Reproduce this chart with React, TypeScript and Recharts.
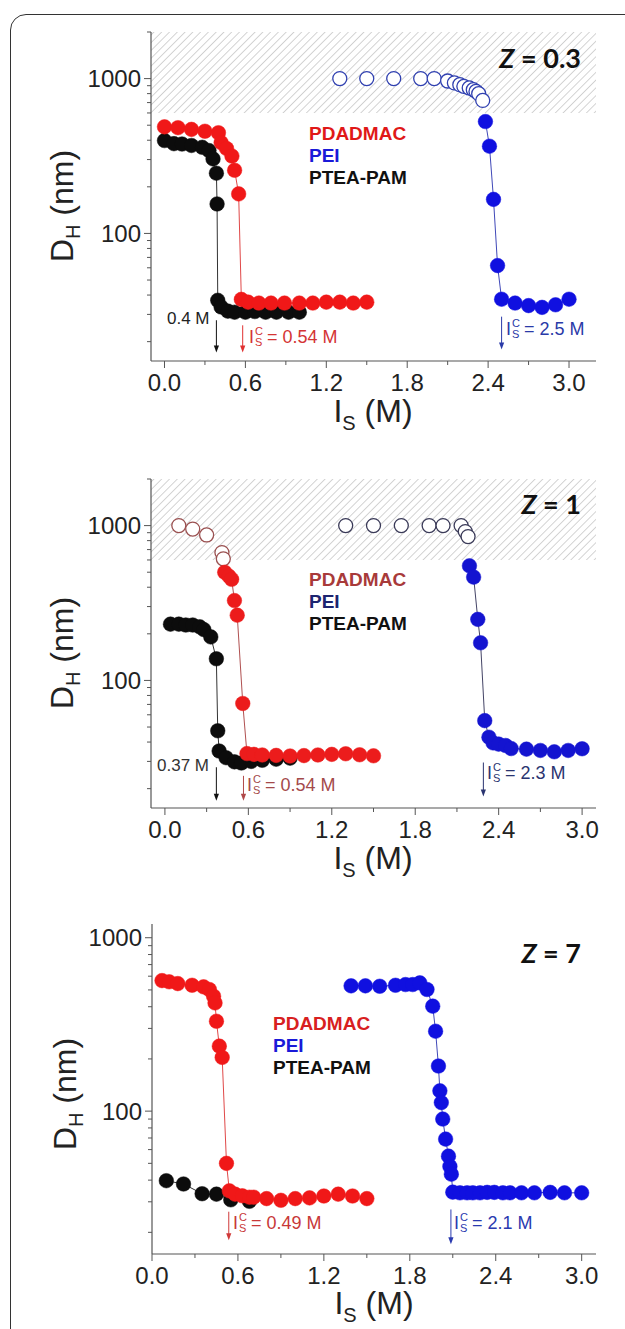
import React from 'react'
import { ScatterChart, Scatter, XAxis, YAxis, ReferenceArea, ReferenceLine } from 'recharts'

// ---- Z = 0.3 ----
const z03BlackX = [0, 0.07, 0.13, 0.2, 0.28, 0.33, 0.36, 0.385, 0.39, 0.395, 0.42, 0.47, 0.52, 0.6, 0.67, 0.75, 0.83, 0.92, 1.0]
const z03BlackY = [398, 380, 378, 370, 360, 343, 303, 245, 155, 37, 33.5, 31.5, 31, 31, 31.3, 31, 31, 31, 31]
const z03RedX = [0, 0.1, 0.2, 0.3, 0.4, 0.42, 0.46, 0.5, 0.52, 0.55, 0.57, 0.62, 0.7, 0.79, 0.89, 1.0, 1.1, 1.2, 1.3, 1.4, 1.5]
const z03RedY = [488, 482, 470, 457, 447, 386, 354, 316, 256, 180, 37.5, 36, 35.5, 35.5, 35.5, 35.5, 35.5, 36, 36, 35.5, 36]
const z03PeiOpenX = [1.3, 1.5, 1.7, 1.9, 2.0, 2.1, 2.15, 2.19, 2.22, 2.26, 2.29, 2.31, 2.33, 2.36]
const z03PeiOpenY = [1000, 1000, 1000, 1000, 1000, 965, 938, 914, 891, 870, 848, 827, 799, 723]
const z03PeiX = [2.38, 2.41, 2.44, 2.47, 2.5, 2.6, 2.7, 2.8, 2.9, 3.0]
const z03PeiY = [528, 366, 166, 62, 37.6, 35.5, 34.2, 33.3, 34.6, 37.6]

// ---- Z = 1 ----
const z1BlackX = [0.04, 0.1, 0.15, 0.2, 0.25, 0.28, 0.33, 0.37, 0.38, 0.39, 0.44, 0.5, 0.55, 0.62, 0.7, 0.8, 0.9]
const z1BlackY = [231, 231, 228, 228, 222, 213, 191, 138, 47.3, 35, 31.7, 29.8, 29.3, 30, 30.5, 31, 31.5]
const z1RedOpenX = [0.1, 0.2, 0.3, 0.41, 0.42]
const z1RedOpenY = [1000, 950, 870, 670, 610]
const z1RedX = [0.43, 0.46, 0.48, 0.5, 0.52, 0.56, 0.59, 0.64, 0.7, 0.8, 0.9, 1.0, 1.1, 1.2, 1.3, 1.4, 1.5]
const z1RedY = [500, 472, 450, 328, 264, 71, 33.7, 33.3, 33, 32.8, 32.5, 32.7, 33, 33.3, 33.6, 33.1, 32.6]
const z1PeiOpenX = [1.3, 1.5, 1.7, 1.9, 2.0, 2.13, 2.16, 2.18]
const z1PeiOpenY = [1000, 1000, 1000, 1000, 1000, 1000, 915, 850]
const z1PeiX = [2.19, 2.22, 2.25, 2.27, 2.3, 2.33, 2.36, 2.4, 2.45, 2.49, 2.6, 2.7, 2.8, 2.9, 3.0]
const z1PeiY = [550, 465, 248, 175, 55, 43, 39.5, 38.8, 38, 36.3, 36, 35.3, 34.6, 35.3, 36.2]

// ---- Z = 7 ----
const z7BlackX = [0.1, 0.22, 0.35, 0.45, 0.55, 0.68]
const z7BlackY = [39.7, 38, 33.4, 33.2, 30.8, 30.2]
const z7RedX = [0.07, 0.12, 0.18, 0.28, 0.36, 0.4, 0.43, 0.44, 0.45, 0.47, 0.49, 0.52, 0.54, 0.58, 0.63, 0.68, 0.71, 0.8, 0.9, 1.0, 1.1, 1.2, 1.3, 1.4, 1.5]
const z7RedY = [566, 557, 544, 532, 521, 503, 460, 421, 330, 237, 204, 50, 34.7, 33.2, 32.5, 31.9, 31.9, 31.3, 30.6, 31.3, 31.6, 32.4, 33.2, 32.4, 31.3]
const z7PeiX = [1.39, 1.49, 1.59, 1.7, 1.77, 1.82, 1.87, 1.92, 1.96, 1.98, 2.0, 2.01, 2.02, 2.03, 2.05, 2.07, 2.08, 2.09, 2.1, 2.15, 2.2, 2.24, 2.29, 2.34, 2.39, 2.45, 2.5, 2.58, 2.67, 2.78, 2.88, 3.0]
const z7PeiY = [528, 528, 525, 532, 537, 537, 549, 503, 403, 289, 182, 131, 112, 90, 69, 55, 48, 43.3, 34.1, 33.8, 33.8, 33.8, 33.8, 34, 34, 33.8, 33.8, 33.8, 33.8, 34, 33.8, 33.8]

const X_TICKS = [0, 0.3, 0.6, 0.9, 1.2, 1.5, 1.8, 2.1, 2.4, 2.7, 3.0]
const Y_TICKS = [20, 30, 40, 50, 60, 70, 80, 90, 100, 200, 300, 400, 500, 600, 700, 800, 900, 1000, 2000]
const Y_LABELS = [100, 1000]

const SANS = '"Liberation Sans", Arial, Helvetica, sans-serif'
const AXIS = '#555'

type Row = { x: number; y: number; open: boolean }
const rows = (xs: number[], ys: number[], open = false): Row[] => xs.map((x, i) => ({ x, y: ys[i], open }))

const isMajor = (v: number) => {
  const r = v / 0.6
  return Math.abs(r - Math.round(r)) < 1e-6
}

const BottomTick = (p: any) => {
  const v = p.payload.value
  const major = isMajor(v)
  return (
    <g>
      <line x1={p.x} y1={p.y} x2={p.x} y2={p.y + (major ? 7 : 4)} stroke={AXIS} />
      {major && (
        <text x={p.x} y={p.y + 30} textAnchor="middle" fontSize={24} fontFamily={SANS} fill="#222">
          {v.toFixed(1)}
        </text>
      )}
    </g>
  )
}
const TopTick = (p: any) => (
  <line x1={p.x} y1={p.y} x2={p.x} y2={p.y + (isMajor(p.payload.value) ? 6 : 3.5)} stroke={AXIS} />
)
const LeftTick = (p: any) => {
  const v = p.payload.value
  const major = Y_LABELS.includes(v)
  return (
    <g>
      <line x1={p.x} y1={p.y} x2={p.x - (major ? 7 : 4)} y2={p.y} stroke={AXIS} />
      {major && (
        <text x={p.x - 10} y={p.y + 8.5} textAnchor="end" fontSize={24} fontFamily={SANS} fill="#222">
          {v}
        </text>
      )}
    </g>
  )
}
const RightTick = (p: any) => (
  <line x1={p.x} y1={p.y} x2={p.x - (Y_LABELS.includes(p.payload.value) ? 6 : 3.5)} y2={p.y} stroke={AXIS} />
)

const marker = (fill: string, openStroke: string) => (p: any) => {
  const open = p.payload?.open ?? p.open
  if (p.cx == null || p.cy == null) return <g />
  return open ? (
    <circle cx={p.cx} cy={p.cy} r={7} fill="#fff" stroke={openStroke} strokeWidth={1.3} />
  ) : (
    <circle cx={p.cx} cy={p.cy} r={7.3} fill={fill} stroke={fill} strokeWidth={0.5} />
  )
}

const arrowShape = (color: string) => (p: any) => {
  const x = p.x1
  const top = Math.min(p.y1, p.y2)
  const tip = Math.max(p.y1, p.y2)
  return (
    <g>
      <line x1={x} y1={top} x2={x} y2={tip - 5} stroke={color} strokeWidth={1} />
      <path d={`M${x - 2.6},${tip - 7} L${x + 2.6},${tip - 7} L${x},${tip} Z`} fill={color} />
    </g>
  )
}

type Series = { data: Row[]; fill: string; open: string; line?: string }
type Arrow = { x: number; y1: number; y2: number; color: string }

type PanelProps = {
  id: string
  frameTop: number
  frameLeft: number
  frameHeight: number
  xDomain: [number, number]
  yDomain: [number, number]
  hatched: boolean
  series: Series[]
  arrows: Arrow[]
}

function Panel({ id, frameTop, frameLeft, frameHeight, xDomain, yDomain, hatched, series, arrows }: PanelProps) {
  const yTicks = Y_TICKS.filter((t) => t <= yDomain[1])
  return (
    <div style={{ position: 'absolute', left: 0, top: frameTop - 10 }}>
      <ScatterChart
        width={625}
        height={frameHeight + 50}
        margin={{ top: 10, right: 29, bottom: 0, left: frameLeft - 60 }}
      >
        <defs>
          <pattern id={`hatch-${id}`} width={5.5} height={5.5} patternUnits="userSpaceOnUse" patternTransform="rotate(45)">
            <line x1={0} y1={0} x2={0} y2={5.5} stroke="#a8a8a8" strokeWidth={1} />
          </pattern>
        </defs>
        <XAxis
          dataKey="x"
          type="number"
          domain={xDomain}
          ticks={X_TICKS}
          interval={0}
          allowDataOverflow
          height={40}
          tickSize={0}
          tickMargin={0}
          tickLine={false}
          axisLine={{ stroke: AXIS, strokeWidth: 1.2 }}
          tick={<BottomTick />}
        />
        <XAxis
          xAxisId="top"
          orientation="top"
          type="number"
          domain={xDomain}
          ticks={X_TICKS}
          interval={0}
          allowDataOverflow
          height={0}
          tickSize={0}
          tickMargin={0}
          tickLine={false}
          axisLine={{ stroke: AXIS, strokeWidth: 1.2 }}
          tick={<TopTick />}
        />
        <YAxis
          dataKey="y"
          type="number"
          scale="log"
          domain={yDomain}
          ticks={yTicks}
          interval={0}
          allowDataOverflow
          width={60}
          tickSize={0}
          tickMargin={0}
          tickLine={false}
          axisLine={{ stroke: AXIS, strokeWidth: 1.2 }}
          tick={<LeftTick />}
        />
        <YAxis
          yAxisId="right"
          orientation="right"
          type="number"
          scale="log"
          domain={yDomain}
          ticks={yTicks}
          interval={0}
          allowDataOverflow
          width={0}
          tickSize={0}
          tickMargin={0}
          tickLine={false}
          axisLine={{ stroke: AXIS, strokeWidth: 1.2 }}
          tick={<RightTick />}
        />
        {hatched && (
          <ReferenceArea
            x1={xDomain[0]}
            x2={xDomain[1]}
            y1={600}
            y2={yDomain[1]}
            fill={`url(#hatch-${id})`}
            fillOpacity={1}
            stroke="none"
          />
        )}
        {arrows.map((a, i) => (
          <ReferenceLine
            key={`arrow-${i}`}
            segment={[
              { x: a.x, y: a.y1 },
              { x: a.x, y: a.y2 },
            ]}
            shape={arrowShape(a.color)}
          />
        ))}
        {series.map((s, i) =>
          s.line ? (
            <Scatter
              key={`s-${i}`}
              data={s.data}
              line={{ stroke: s.line, strokeWidth: 1 }}
              shape={marker(s.fill, s.open)}
              isAnimationActive={false}
            />
          ) : (
            <Scatter key={`s-${i}`} data={s.data} shape={marker(s.fill, s.open)} isAnimationActive={false} />
          )
        )}
      </ScatterChart>
    </div>
  )
}

const Txt = ({ left, top, children, style }: { left: number; top: number; children: React.ReactNode; style?: React.CSSProperties }) => (
  <div
    style={{
      position: 'absolute',
      left,
      top,
      transform: 'translateY(-50%)',
      whiteSpace: 'nowrap',
      lineHeight: 1,
      fontFamily: SANS,
      ...style,
    }}
  >
    {children}
  </div>
)

const Isc = ({ left, top, value, color }: { left: number; top: number; value: string; color: string }) => (
  <Txt left={left} top={top} style={{ color, fontSize: 18, display: 'flex', alignItems: 'center' }}>
    <span>I</span>
    <span
      style={{
        display: 'inline-flex',
        flexDirection: 'column',
        fontSize: 11,
        lineHeight: '11px',
        margin: '0 4px 0 1px',
      }}
    >
      <span>C</span>
      <span>S</span>
    </span>
    <span>= {value} M</span>
  </Txt>
)

const Legend = ({ left, top, colors }: { left: number; top: number; colors: string[] }) => (
  <>
    {['PDADMAC', 'PEI', 'PTEA-PAM'].map((name, i) => (
      <Txt key={name} left={left} top={top + i * 22} style={{ color: colors[i], fontSize: 19, fontWeight: 700 }}>
        {name}
      </Txt>
    ))}
  </>
)

const ZLabel = ({ top, value }: { top: number; value: string }) => (
  <div
    style={{
      position: 'absolute',
      left: 581,
      top,
      transform: 'translate(-100%, -50%)',
      whiteSpace: 'nowrap',
      lineHeight: 1,
      fontFamily: 'Lato, "Open Sans", sans-serif',
      fontWeight: 700,
      fontSize: 27,
      color: '#111',
    }}
  >
    <i>Z</i> = {value}
  </div>
)

const YTitle = ({ cx, cy }: { cx: number; cy: number }) => (
  <div
    style={{
      position: 'absolute',
      left: cx,
      top: cy,
      transform: 'translate(-50%, -50%) rotate(-90deg)',
      whiteSpace: 'nowrap',
      lineHeight: 1,
      fontFamily: SANS,
      fontSize: 32,
      color: '#222',
    }}
  >
    D<span style={{ fontSize: 20, position: 'relative', top: 7 }}>H</span> (nm)
  </div>
)

const XTitle = ({ cx, cy }: { cx: number; cy: number }) => (
  <div
    style={{
      position: 'absolute',
      left: cx,
      top: cy,
      transform: 'translate(-50%, -50%)',
      whiteSpace: 'nowrap',
      lineHeight: '28px',
      fontFamily: SANS,
      fontSize: 32,
      color: '#222',
    }}
  >
    I<span style={{ fontSize: 20, position: 'relative', top: 8 }}>S</span> (M)
  </div>
)

export default function App() {
  const black = '#0c0c0c'
  const red = '#f01818'
  const blue = '#1010e0'

  const p1: Series[] = [
    { data: rows(z03BlackX, z03BlackY), fill: black, open: black, line: '#333' },
    { data: rows(z03RedX, z03RedY), fill: red, open: red, line: '#e04848' },
    { data: rows(z03PeiOpenX, z03PeiOpenY, true), fill: blue, open: '#3040b0' },
    { data: rows(z03PeiX, z03PeiY), fill: blue, open: blue, line: '#4048b8' },
  ]
  const p2: Series[] = [
    { data: rows(z1BlackX, z1BlackY), fill: black, open: black, line: '#333' },
    { data: rows(z1RedOpenX, z1RedOpenY, true), fill: '#ec1c1c', open: '#9a5050' },
    { data: rows(z1RedX, z1RedY), fill: '#ec1c1c', open: '#9a5050', line: '#b05050' },
    { data: rows(z1PeiOpenX, z1PeiOpenY, true), fill: '#1414d0', open: '#3a3a58' },
    { data: rows(z1PeiX, z1PeiY), fill: '#1414d0', open: '#3a3a58', line: '#444466' },
  ]
  const p3: Series[] = [
    { data: rows(z7BlackX, z7BlackY), fill: black, open: black, line: '#333' },
    { data: rows(z7RedX, z7RedY), fill: red, open: red, line: '#e04848' },
    { data: rows(z7PeiX, z7PeiY), fill: blue, open: blue, line: '#4048b8' },
  ]

  return (
    <div style={{ position: 'absolute', left: 0, top: 0, width: 625, height: 1329, overflow: 'hidden', background: '#fff' }}>
      <div
        style={{
          position: 'absolute',
          left: 10,
          top: 14,
          width: 800,
          height: 1500,
          border: '1.5px solid #333',
          borderRadius: 16,
        }}
      />

      <Panel
        id="z03"
        frameTop={32}
        frameLeft={151}
        frameHeight={329}
        xDomain={[-0.1, 3.2]}
        yDomain={[15, 2000]}
        hatched
        series={p1}
        arrows={[
          { x: 0.385, y1: 27.5, y2: 17, color: '#111' },
          { x: 0.58, y1: 25.5, y2: 17, color: '#e03030' },
          { x: 2.5, y1: 29, y2: 17.8, color: '#2a3aa8' },
        ]}
      />
      <ZLabel top={57} value="0.3" />
      <Legend left={309} top={133} colors={['#e01818', '#1a1ad8', '#111']} />
      <YTitle cx={62} cy={206} />
      <XTitle cx={373} cy={413} />
      <Txt left={167} top={318} style={{ fontSize: 17, color: '#222' }}>0.4 M</Txt>
      <Isc left={249} top={337} value="0.54" color="#d43434" />
      <Isc left={506} top={329} value="2.5" color="#2a3aa8" />

      <Panel
        id="z1"
        frameTop={479}
        frameLeft={151}
        frameHeight={329}
        xDomain={[-0.1, 3.1]}
        yDomain={[15, 2000]}
        hatched
        series={p2}
        arrows={[
          { x: 0.37, y1: 27.5, y2: 16.7, color: '#111' },
          { x: 0.565, y1: 24.2, y2: 16.7, color: '#b04848' },
          { x: 2.29, y1: 29.5, y2: 17.8, color: '#2a3470' },
        ]}
      />
      <ZLabel top={503} value="1" />
      <Legend left={309} top={579} colors={['#a83a3a', '#1c2470', '#111']} />
      <YTitle cx={62} cy={653} />
      <XTitle cx={373} cy={860} />
      <Txt left={157} top={765} style={{ fontSize: 17, color: '#333' }}>0.37 M</Txt>
      <Isc left={247} top={785} value="0.54" color="#a44a4a" />
      <Isc left={487} top={773} value="2.3" color="#2a3470" />

      <Panel
        id="z7"
        frameTop={924}
        frameLeft={152}
        frameHeight={330}
        xDomain={[0, 3.1]}
        yDomain={[15, 1200]}
        hatched={false}
        series={p3}
        arrows={[
          { x: 0.536, y1: 26.3, y2: 18, color: '#d03838' },
          { x: 2.087, y1: 27.1, y2: 17.1, color: '#2a3ab0' },
        ]}
      />
      <ZLabel top={952} value="7" />
      <Legend left={273} top={1023} colors={['#d82020', '#1a1ad8', '#111']} />
      <YTitle cx={65} cy={1094} />
      <XTitle cx={374} cy={1305} />
      <Isc left={233} top={1223} value="0.49" color="#c83838" />
      <Isc left={454} top={1223} value="2.1" color="#2a3ab0" />
    </div>
  )
}
